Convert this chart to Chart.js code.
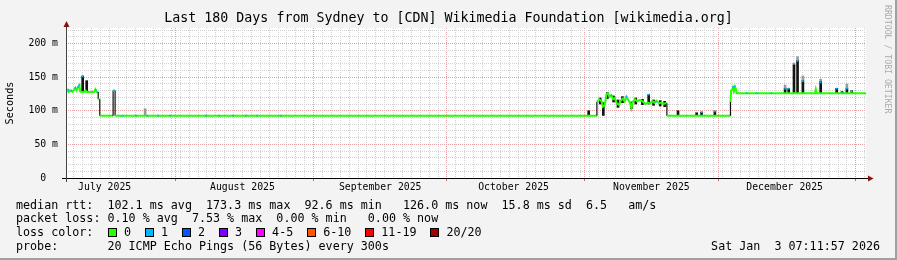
<!DOCTYPE html>
<html>
<head>
<meta charset="utf-8">
<title>Last 180 Days from Sydney</title>
<script src="https://cdn.jsdelivr.net/npm/chart.js@4.4.1/dist/chart.umd.min.js"></script>
<style>
  body { margin: 0; background: #f3f3f3; }
  #wrap { position: relative; width: 897px; height: 260px; background: #f3f3f3; overflow: hidden; }
  #chart { position: absolute; left: 0; top: 0; }
  .txt { position: absolute; font: 11.7px "DejaVu Sans Mono", monospace; white-space: pre; line-height: 14px; color: #000; }
  .box { position: absolute; width: 7px; height: 7px; border: 1px solid #000; top: 228px; }
  #wm { position: absolute; left: 893px; top: 5px; transform-origin: 0 0; transform: rotate(90deg);
        font: 8.2px "DejaVu Sans Mono", monospace; color: #ababab; white-space: pre; line-height: 10px; }
  #edgeR { position: absolute; right: 0; top: 0; width: 2px; height: 260px; background: #a0a0a0; }
  #edgeB { position: absolute; left: 0; bottom: 0; width: 897px; height: 2px; background: #a0a0a0; }
</style>
</head>
<body>
<div id="wrap">
  <canvas id="chart" width="897" height="260"></canvas>
  <div id="legend"></div>
  <div id="wm">RRDTOOL / TOBI OETIKER</div>
  <div id="edgeR"></div>
  <div id="edgeB"></div>
</div>
<script>
// x values are days since 1 Jul 2025 00:00, y values are milliseconds
const startDay = 6.3;
const endDay = 186.3;

const monthStarts = [31, 62, 92, 123, 153, 184];
const monthLabelDays = [15, 46, 77, 107, 138, 168];
const monthLabels = ['July 2025', 'August 2025', 'September 2025', 'October 2025', 'November 2025', 'December 2025'];

// median rtt (green line)
const medianDays = [
  6.3, 6.7, 6.9, 7.4, 7.7, 8.1, 8.4, 8.7, 9.0, 9.3, 9.5, 9.8, 10.3, 10.7, 11.0, 11.3, 12.6, 12.9, 13.2, 13.55, 13.55, 13.9, 13.9,
  16.9, 16.9, 17.35, 17.35,
  125.75, 125.75, 126.3, 126.8, 127.1, 127.5, 127.9, 128.2, 128.6, 129.0, 129.4, 129.8, 130.2, 130.7, 131.1, 131.6, 132.0,
  132.4, 132.8, 133.2, 133.5, 133.8, 134.3, 134.8, 135.3, 135.8, 136.2, 136.7, 137.2, 137.7, 138.2, 138.7, 139.2, 139.7,
  140.2, 140.7, 141.2, 141.5, 141.5,
  155.8, 155.8, 155.95, 156.2, 156.4, 156.6, 156.8, 157.0, 157.2, 174.8, 175.0, 175.2, 186.3
];
const medianMs = [
  128, 131, 128, 130, 128, 131, 134, 130, 135, 138, 129, 128, 128, 130, 128, 128, 128, 132, 128, 128, 117, 117, 92.6,
  92.6, 130, 130, 92.6,
  92.6, 113, 117, 114, 106, 108, 124, 126, 121, 123, 117, 119, 111, 109, 115, 118, 114,
  121, 116, 112, 104, 113, 117, 114, 116, 115, 113, 110, 112, 111, 114, 112, 115, 111,
  112, 110, 111, 111, 92.6,
  92.6, 113, 130, 131, 135, 132, 136, 133, 126, 126, 132, 126, 126
];

// smoke: dark spread bars
const smokeDays = [10.05, 10.95, 123.9, 126.5, 127.2, 128.1, 129.5, 130.5, 131.5, 133.5, 134.5, 136.0,
  137.4, 138.5, 140.0, 141.0, 144.0, 148.2, 149.3, 152.3,
  168.1, 168.9, 170.1, 170.9, 172.1, 176.1, 179.7, 180.9, 182.0, 183.1];
const smokeLow = [128, 128, 92.6, 110, 93, 118, 113, 105, 112, 103, 110, 109,
  110, 108, 107, 106, 92.6, 92.6, 92.6, 92.6,
  126, 126, 126, 126, 126, 126, 126, 126, 126, 126];
const smokeHigh = [151.7, 144.7, 100, 119, 112, 127, 122, 116, 121, 113, 119, 117,
  124, 116, 115, 114, 100, 97, 98, 99.6,
  133.3, 133, 168, 174.4, 144.7, 143.2, 133.3, 128.5, 133, 130];

// smoke: light grey tops
const haloDays = [24.1, 168.1, 170.1, 170.9, 172.1, 176.1, 182.0];
const haloLow = [92.6, 133, 167, 174, 144, 143, 133];
const haloHigh = [103, 138, 171, 180.4, 151.7, 146.7, 139.8];

// loss 1 marks on the median
const loss1Days = [6.9, 7.5, 8.4, 9.0, 9.3, 10.05, 13.0, 17.1,
  19.0, 22.05, 24.6, 27.0, 29.7, 37.8, 40.8, 43.9, 46.8, 49.3, 54.7,
  129.0, 132.4, 137.4, 139.0, 149.3, 152.3,
  156.4, 156.8, 159.5, 161.7, 165.0, 168.1, 168.9, 170.9, 172.1, 176.1, 179.7, 181.2, 182.0, 183.1];
const loss1Ms = [131, 130, 134, 135, 138, 151, 131, 130,
  92.6, 92.6, 92.6, 92.6, 92.6, 92.6, 92.6, 92.6, 92.6, 92.6, 92.6,
  123, 121, 124, 113, 98, 99,
  135, 136, 126, 126, 126, 133, 133, 174, 144, 142, 133, 126, 133, 129];

const lossLabels = ['0', '1', '2', '3', '4-5', '6-10', '11-19', '20/20'];
const lossColors = ['#26ff00', '#00b8ff', '#0059ff', '#7e00ff', '#ff00ff', '#ff5500', '#ff0000', '#a00000'];

const statRows = [
  'median rtt:  102.1 ms avg  173.3 ms max  92.6 ms min   126.0 ms now  15.8 ms sd  6.5   am/s',
  'packet loss: 0.10 % avg  7.53 % max  0.00 % min   0.00 % now',
  'loss color:',
  'probe:       20 ICMP Echo Pings (56 Bytes) every 300s'
];
const stamp = 'Sat Jan  3 07:11:57 2026';

// ---- legend (html text) ----
const legend = document.getElementById('legend');
const rowTops = [198, 211, 225, 239];
statRows.forEach((t, i) => {
  const d = document.createElement('div');
  d.className = 'txt';
  d.style.left = '16px';
  d.style.top = rowTops[i] + 'px';
  d.textContent = t;
  legend.appendChild(d);
});
let bx = 108;
lossLabels.forEach((l, i) => {
  const b = document.createElement('div');
  b.className = 'box';
  b.style.left = bx + 'px';
  b.style.background = lossColors[i];
  legend.appendChild(b);
  const d = document.createElement('div');
  d.className = 'txt';
  d.style.left = (bx + 16) + 'px';
  d.style.top = rowTops[2] + 'px';
  d.textContent = l;
  legend.appendChild(d);
  bx = bx + 16 + l.length * 7.03 + 14;
});
const st = document.createElement('div');
st.className = 'txt';
st.style.right = '17px';
st.style.top = rowTops[3] + 'px';
st.textContent = stamp;
legend.appendChild(st);

// ---- ticks ----
const xTicks = [];
for (let d = 8; d <= 186; d += 2) xTicks.push(d);
monthStarts.concat(monthLabelDays).forEach(d => { if (!xTicks.includes(d)) xTicks.push(d); });
xTicks.sort((a, b) => a - b);
const yTicks = [];
for (let v = 0; v <= 220; v += 10) yTicks.push(v);

const minorGrid = '#d2d2d2';
const majorGrid = '#e4a0a0';

const canvasPlugin = {
  id: 'canvasBg',
  beforeDraw(chart) {
    const { ctx, chartArea: a } = chart;
    ctx.save();
    ctx.fillStyle = '#fff';
    ctx.fillRect(a.left, a.top, a.right - a.left, a.bottom - a.top);
    ctx.restore();
  }
};

const axesPlugin = {
  id: 'axes',
  afterDraw(chart) {
    const { ctx, chartArea: a } = chart;
    ctx.save();
    ctx.lineWidth = 1;
    ctx.strokeStyle = '#000';
    ctx.beginPath();
    ctx.moveTo(a.left - 4, a.bottom + 0.5);
    ctx.lineTo(a.right + 2, a.bottom + 0.5);
    ctx.stroke();
    ctx.strokeStyle = '#444';
    ctx.beginPath();
    ctx.moveTo(a.left + 0.5, a.bottom + 4);
    ctx.lineTo(a.left + 0.5, a.top - 2);
    ctx.stroke();
    ctx.fillStyle = '#8b1010';
    ctx.beginPath();
    ctx.moveTo(a.right + 2, a.bottom - 2.5);
    ctx.lineTo(a.right + 7.5, a.bottom + 0.5);
    ctx.lineTo(a.right + 2, a.bottom + 3.5);
    ctx.closePath();
    ctx.fill();
    ctx.beginPath();
    ctx.moveTo(a.left - 2.5, a.top - 1);
    ctx.lineTo(a.left + 0.5, a.top - 7);
    ctx.lineTo(a.left + 3.5, a.top - 1);
    ctx.closePath();
    ctx.fill();
    ctx.restore();
  }
};

const mono = 'DejaVu Sans Mono';

new Chart(document.getElementById('chart'), {
  type: 'line',
  data: {
    datasets: [
      {
        type: 'line',
        data: loss1Days.map((d, i) => ({ x: d, y: loss1Ms[i] })),
        showLine: false,
        pointStyle: 'rect',
        pointRadius: 1.2,
        pointBorderWidth: 0,
        pointBackgroundColor: lossColors[1],
        order: 0
      },
      {
        type: 'line',
        data: medianDays.map((d, i) => ({ x: d, y: medianMs[i] })),
        borderColor: lossColors[0],
        borderWidth: 2,
        pointRadius: 0,
        tension: 0,
        segment: {
          borderColor: c => c.p0.parsed.x === c.p1.parsed.x ? '#111' : lossColors[0],
          borderWidth: c => c.p0.parsed.x === c.p1.parsed.x ? 1.2 : 2
        },
        order: 1
      },
      {
        type: 'bar',
        data: smokeDays.map((d, i) => ({ x: d, y: [smokeLow[i], smokeHigh[i]] })),
        backgroundColor: '#141414',
        barThickness: 2,
        grouped: false,
        order: 2
      },
      {
        type: 'bar',
        data: haloDays.map((d, i) => ({ x: d, y: [haloLow[i], haloHigh[i]] })),
        backgroundColor: '#9a9a9a',
        barThickness: 2,
        grouped: false,
        order: 3
      }
    ]
  },
  options: {
    responsive: false,
    animation: false,
    devicePixelRatio: 1,
    layout: { padding: 0 },
    plugins: {
      legend: { display: false },
      tooltip: { enabled: false },
      title: {
        display: true,
        text: 'Last 180 Days from Sydney to [CDN] Wikimedia Foundation [wikimedia.org]',
        color: '#000',
        font: { family: mono, size: 13.3, weight: 'normal', lineHeight: 1.2 },
        padding: { top: 11, bottom: 1.04 }
      }
    },
    scales: {
      x: {
        type: 'linear',
        min: startDay,
        max: endDay,
        offset: false,
        afterBuildTicks: s => { s.ticks = xTicks.map(v => ({ value: v })); },
        afterFit: s => { s.height = 82; },
        grid: {
          offset: false,
          color: c => monthStarts.includes(c.tick.value) ? majorGrid : (c.tick.value % 2 === 0 ? minorGrid : 'rgba(0,0,0,0)'),
          tickColor: c => monthStarts.includes(c.tick.value) ? '#c46a6a' : 'rgba(0,0,0,0)',
          tickLength: 3,
          lineWidth: 1
        },
        border: { display: false, dash: [1, 1] },
        ticks: {
          autoSkip: false,
          maxRotation: 0,
          padding: 1,
          color: '#000',
          font: { family: mono, size: 9.8 },
          callback: v => {
            const i = monthLabelDays.indexOf(v);
            return i >= 0 ? monthLabels[i] : '';
          }
        }
      },
      y: {
        type: 'linear',
        min: 0,
        max: 223,
        afterBuildTicks: s => { s.ticks = yTicks.map(v => ({ value: v })); },
        afterFit: s => { s.width = 66; },
        grid: {
          drawTicks: false,
          color: c => c.tick.value === 0 ? 'rgba(0,0,0,0)' : (c.tick.value % 50 === 0 ? majorGrid : minorGrid),
          lineWidth: 1
        },
        border: { display: false, dash: [1, 1] },
        title: {
          display: true,
          text: 'Seconds',
          color: '#000',
          font: { family: mono, size: 10.2 },
          padding: { top: 4, bottom: 0 }
        },
        ticks: {
          autoSkip: false,
          padding: 8,
          color: '#000',
          font: { family: mono, size: 9.8 },
          callback: v => v === 0 ? '0  ' : (v % 50 === 0 ? v + ' m' : '')
        }
      },
      yRight: {
        type: 'linear',
        position: 'right',
        min: 0,
        max: 223,
        afterFit: s => { s.width = 31; },
        grid: { display: false, drawOnChartArea: false },
        border: { display: false },
        ticks: { display: false }
      }
    }
  },
  plugins: [canvasPlugin, axesPlugin]
});
</script>
</body>
</html>
